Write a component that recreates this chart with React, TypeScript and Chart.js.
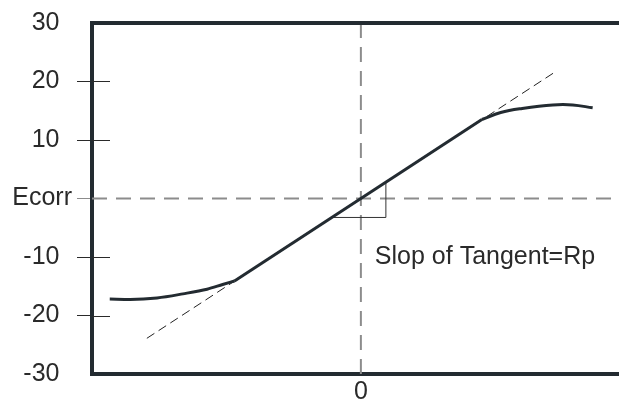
import React, { useEffect, useRef } from "react";
import { Chart, registerables } from "chart.js";

Chart.register(...registerables);

// Polarization curve: lower curved branch, linear region, upper curved branch
const lowerBranchX = [-46.7, -42.9, -37.9, -33.1, -28.6, -25.7, -23.5];
const lowerBranchY = [-17.2, -17.25, -17.0, -16.3, -15.5, -14.7, -14.1];
const linearX = [-23.5, 22.5];
const linearY = [-14.1, 13.5];
const upperBranchX = [22.5, 26.0, 30.0, 35.7, 39.4, 43.1];
const upperBranchY = [13.5, 14.7, 15.4, 16.0, 16.0, 15.5];

// Tangent through the corrosion potential
const tangentX = [-39.8, 35.9];
const tangentY = [-23.9, 21.5];

// Right-angle slope marker on the tangent
const triangleX = [-5.4, 4.65, 4.65];
const triangleY = [-3.24, -3.24, 2.79];

// Reference lines through the origin
const zeroLineX = [-50, 48];
const zeroLineY = [0, 0];
const axisLineX = [0, 0];
const axisLineY = [-30, 30];

const yTickValues = [-30, -20, -10, 0, 10, 20, 30];
const yTickLabels = ["-30", "-20", "-10", "Ecorr", "10", "20", "30"];
const xTickValues = [0];
const xTickLabels = ["0"];

const annotationText = "Slop of Tangent=Rp";
const annotationX = 2.6;
const annotationY = -10;

const FRAME = "#232b31";
const INK = "#2a2a2a";
const GUIDE = "#8c8c8c";
const FONT = { family: "'Liberation Sans', Arial, sans-serif", size: 25 };

const pts = (xs: number[], ys: number[]) => xs.map((x, i) => ({ x, y: ys[i] }));

const framePlugin = {
  id: "frameExtras",
  afterDatasetsDraw(chart: any) {
    const { ctx, chartArea, scales } = chart;
    const y = scales.y;
    const x = scales.x;
    ctx.save();
    // top edge of the frame
    ctx.strokeStyle = FRAME;
    ctx.lineWidth = 4;
    ctx.beginPath();
    ctx.moveTo(chartArea.left - 2, chartArea.top);
    ctx.lineTo(chartArea.right, chartArea.top);
    ctx.stroke();
    // inner halves of the y tick marks
    ctx.strokeStyle = INK;
    ctx.lineWidth = 1;
    for (const v of yTickValues) {
      if (v === 0 || v === yTickValues[0] || v === yTickValues[yTickValues.length - 1]) continue;
      const py = Math.round(y.getPixelForValue(v)) + 0.5;
      ctx.beginPath();
      ctx.moveTo(chartArea.left, py);
      ctx.lineTo(chartArea.left + 18, py);
      ctx.stroke();
    }
    // annotation
    ctx.fillStyle = INK;
    ctx.font = `${FONT.size}px ${FONT.family}`;
    ctx.textAlign = "left";
    ctx.textBaseline = "middle";
    ctx.fillText(annotationText, x.getPixelForValue(annotationX), y.getPixelForValue(annotationY));
    ctx.restore();
  },
};

export default function App() {
  const canvasRef = useRef<HTMLCanvasElement | null>(null);

  useEffect(() => {
    const canvas = canvasRef.current;
    if (!canvas) return;
    const line = (data: any[], extra: any) => ({
      data,
      pointRadius: 0,
      fill: false,
      ...extra,
    });
    const chart = new Chart(canvas, {
      type: "line",
      data: {
        datasets: [
          line(pts(lowerBranchX, lowerBranchY), { borderColor: FRAME, borderWidth: 3, cubicInterpolationMode: "monotone", order: 0 }),
          line(pts(linearX, linearY), { borderColor: FRAME, borderWidth: 3, tension: 0, order: 0 }),
          line(pts(upperBranchX, upperBranchY), { borderColor: FRAME, borderWidth: 3, tension: 0.4, order: 0 }),
          line(pts(tangentX, tangentY), { borderColor: "#222", borderWidth: 1, borderDash: [9, 5], tension: 0, order: 1 }),
          line(pts(triangleX, triangleY), { borderColor: "#333", borderWidth: 1, tension: 0, order: 1 }),
          line(pts(zeroLineX, zeroLineY), { borderColor: GUIDE, borderWidth: 2, borderDash: [15, 9], tension: 0, order: 2 }),
          line(pts(axisLineX, axisLineY), { borderColor: GUIDE, borderWidth: 2, borderDash: [15, 9], tension: 0, order: 2 }),
        ],
      },
      options: {
        responsive: false,
        animation: false,
        devicePixelRatio: 1,
        layout: { padding: { top: 23, right: 0, left: 0, bottom: 0 } },
        plugins: { legend: { display: false }, tooltip: { enabled: false } },
        scales: {
          x: {
            type: "linear",
            min: -50,
            max: 48,
            afterBuildTicks: (s: any) => {
              s.ticks = xTickValues.map((v) => ({ value: v }));
            },
            afterFit: (s: any) => {
              s.height = 25;
            },
            ticks: {
              autoSkip: false,
              maxRotation: 0,
              padding: 3,
              color: INK,
              font: FONT,
              callback: (v: any) => {
                const i = xTickValues.indexOf(Number(v));
                return i >= 0 ? xTickLabels[i] : "";
              },
            },
            grid: { display: true, drawOnChartArea: false, drawTicks: false },
            border: { display: true, color: FRAME, width: 4 },
          },
          y: {
            type: "linear",
            min: -30,
            max: 30,
            afterBuildTicks: (s: any) => {
              s.ticks = yTickValues.map((v) => ({ value: v }));
            },
            afterFit: (s: any) => {
              s.width = 92;
            },
            ticks: {
              autoSkip: false,
              padding: 5,
              color: INK,
              font: FONT,
              callback: (v: any) => {
                const i = yTickValues.indexOf(Number(v));
                if (i < 0) return "";
                // numeric labels sit a little further left than "Ecorr"
                return yTickValues[i] === 0 ? yTickLabels[i] : yTickLabels[i] + "\u2002";
              },
            },
            grid: {
              drawOnChartArea: false,
              drawTicks: true,
              tickLength: 15,
              tickWidth: 1,
              tickColor: (c: any) => {
                const v = c.tick ? c.tick.value : null;
                if (v === 0) return GUIDE;
                if (v === yTickValues[0] || v === yTickValues[yTickValues.length - 1]) return "rgba(0,0,0,0)";
                return INK;
              },
            },
            border: { display: true, color: FRAME, width: 4 },
          },
        },
      },
      plugins: [framePlugin],
    });
    return () => chart.destroy();
  }, []);

  return (
    <div style={{ position: "fixed", left: 0, top: 0, width: 619, height: 399, background: "#fff" }}>
      <canvas ref={canvasRef} width={619} height={399} style={{ display: "block" }} />
    </div>
  );
}
